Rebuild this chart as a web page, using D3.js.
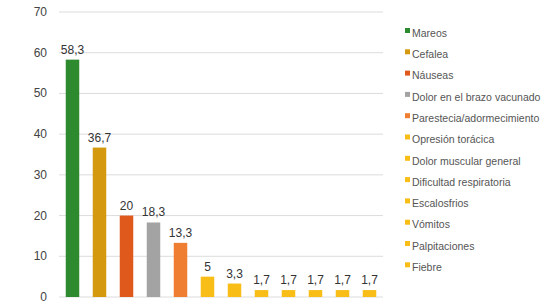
<!DOCTYPE html>
<html>
<head>
<meta charset="utf-8">
<script src="https://cdn.jsdelivr.net/npm/d3@7"></script>
<style>
  body { margin: 0; background: #fff; }
  text { font-family: "Liberation Sans", Arial, sans-serif; }
</style>
</head>
<body>
<div id="chart"></div>
<script>
// data
const categories = ['Mareos', 'Cefalea', 'Náuseas', 'Dolor en el brazo vacunado',
    'Parestecia/adormecimiento', 'Opresión torácica', 'Dolor muscular general',
    'Dificultad respiratoria', 'Escalosfrios', 'Vómitos', 'Palpitaciones', 'Fiebre'];
const values = [58.3, 36.7, 20, 18.3, 13.3, 5, 3.3, 1.7, 1.7, 1.7, 1.7, 1.7];
const colors = ['#2e8a2e', '#d4990f', '#e0591c', '#a3a3a3', '#f07e32', '#f8bd16',
    '#f8bd16', '#f8bd16', '#f8bd16', '#f8bd16', '#f8bd16', '#f8bd16'];
const yTicks = [0, 10, 20, 30, 40, 50, 60, 70];

const width = 548, height = 304;
const plot = {left: 59, right: 383, top: 12, bottom: 297};

const svg = d3.select('#chart').append('svg')
    .attr('width', width)
    .attr('height', height);

const x = d3.scaleBand()
    .domain(categories)
    .range([plot.left, plot.right])
    .paddingInner(0.5)
    .paddingOuter(0.25);

const y = d3.scaleLinear()
    .domain([0, 70])
    .range([plot.bottom, plot.top]);

// gridlines
svg.append('g')
    .selectAll('line')
    .data(yTicks)
    .enter().append('line')
    .attr('x1', plot.left)
    .attr('x2', plot.right)
    .attr('y1', d => y(d))
    .attr('y2', d => y(d))
    .attr('stroke', '#dcdcdc')
    .attr('stroke-width', 1);

// y labels
svg.append('g')
    .selectAll('text')
    .data(yTicks)
    .enter().append('text')
    .attr('x', 47)
    .attr('y', d => y(d) + 4)
    .attr('text-anchor', 'end')
    .attr('font-size', 12)
    .attr('fill', '#444')
    .text(d => d);

// bars
svg.append('g')
    .selectAll('rect')
    .data(values)
    .enter().append('rect')
    .attr('x', (d, i) => x(categories[i]))
    .attr('y', d => y(d))
    .attr('width', x.bandwidth())
    .attr('height', d => y(0) - y(d))
    .attr('fill', (d, i) => colors[i]);

// value labels
const fmt = d => String(d).replace('.', ',');
svg.append('g')
    .selectAll('text')
    .data(values)
    .enter().append('text')
    .attr('x', (d, i) => x(categories[i]) + x.bandwidth() / 2)
    .attr('y', d => y(d) - 6)
    .attr('text-anchor', 'middle')
    .attr('font-size', 12)
    .attr('fill', '#333')
    .text(fmt);

// legend
const legend = svg.append('g')
    .attr('transform', 'translate(405,32)');

const item = legend.selectAll('g')
    .data(categories)
    .enter().append('g')
    .attr('transform', (d, i) => 'translate(0,' + (i * 21.3) + ')');

item.append('rect')
    .attr('x', 0)
    .attr('y', -4)
    .attr('width', 5)
    .attr('height', 5)
    .attr('fill', (d, i) => colors[i]);

item.append('text')
    .attr('x', 7)
    .attr('y', 2)
    .attr('dominant-baseline', 'middle')
    .attr('font-size', 10.5)
    .attr('fill', '#555')
    .text(d => d);
</script>
</body>
</html>
